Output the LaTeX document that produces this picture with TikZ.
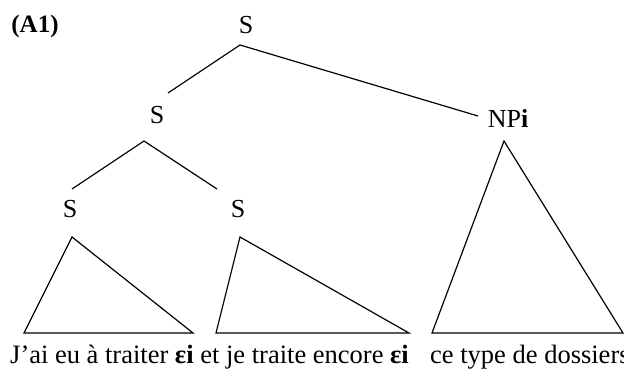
\documentclass[tikz,border=0pt]{standalone}
\usepackage{fontspec}
\setmainfont{Liberation Serif}
\begin{document}
\begin{tikzpicture}[x=1pt,y=-1pt,
  lab/.style={font=\fontsize{26}{30}\selectfont, inner sep=0pt},
  edge/.style={line width=1.2pt, line join=miter},
  tri/.style={line width=1.2pt, line join=miter}]
\useasboundingbox (0,0) rectangle (624,377);
\node[inner sep=0pt, font=\bfseries\fontsize{25}{30}\selectfont] (a1) at (35,26) {(A1)};
\node[lab] (s0) at (246,25) {S};
\node[lab] (s1) at (157,115) {S};
\node[lab] (np) at (508,118) {NP\textbf{i}};
\node[lab] (s2) at (70,209) {S};
\node[lab] (s3) at (238,209) {S};
% connectors
\coordinate (s0b) at (240,45);
\coordinate (s1t) at (168,93);
\coordinate (npt) at (478,116);
\coordinate (s1b) at (144,141);
\coordinate (s2t) at (72,189);
\coordinate (s3t) at (217,189);
\draw[edge] (s1t) -- (s0b) -- (npt);
\draw[edge] (s2t) -- (s1b) -- (s3t);
% triangles
\coordinate (t1a) at (72,237);
\coordinate (t1l) at (24,333);
\coordinate (t1r) at (193,333);
\coordinate (t2a) at (240,237);
\coordinate (t2l) at (216,333);
\coordinate (t2r) at (409,333);
\coordinate (t3a) at (504,141);
\coordinate (t3l) at (432,333);
\coordinate (t3r) at (623,333);
\draw[tri] (t1a) -- (t1l) -- (t1r) -- cycle;
\draw[tri] (t2a) -- (t2l) -- (t2r) -- cycle;
\draw[tri] (t3a) -- (t3l) -- (t3r) -- cycle;
% sentence
\node[lab, font=\fontsize{26.5}{30}\selectfont, anchor=base west] (sent1) at (10,363) {J’ai eu à traiter \textbf{εi} et je traite encore \textbf{εi}};
\node[lab, font=\fontsize{26.5}{30}\selectfont, anchor=base west] (sent2) at (430,363) {ce type de dossiers};
\end{tikzpicture}
\end{document}
